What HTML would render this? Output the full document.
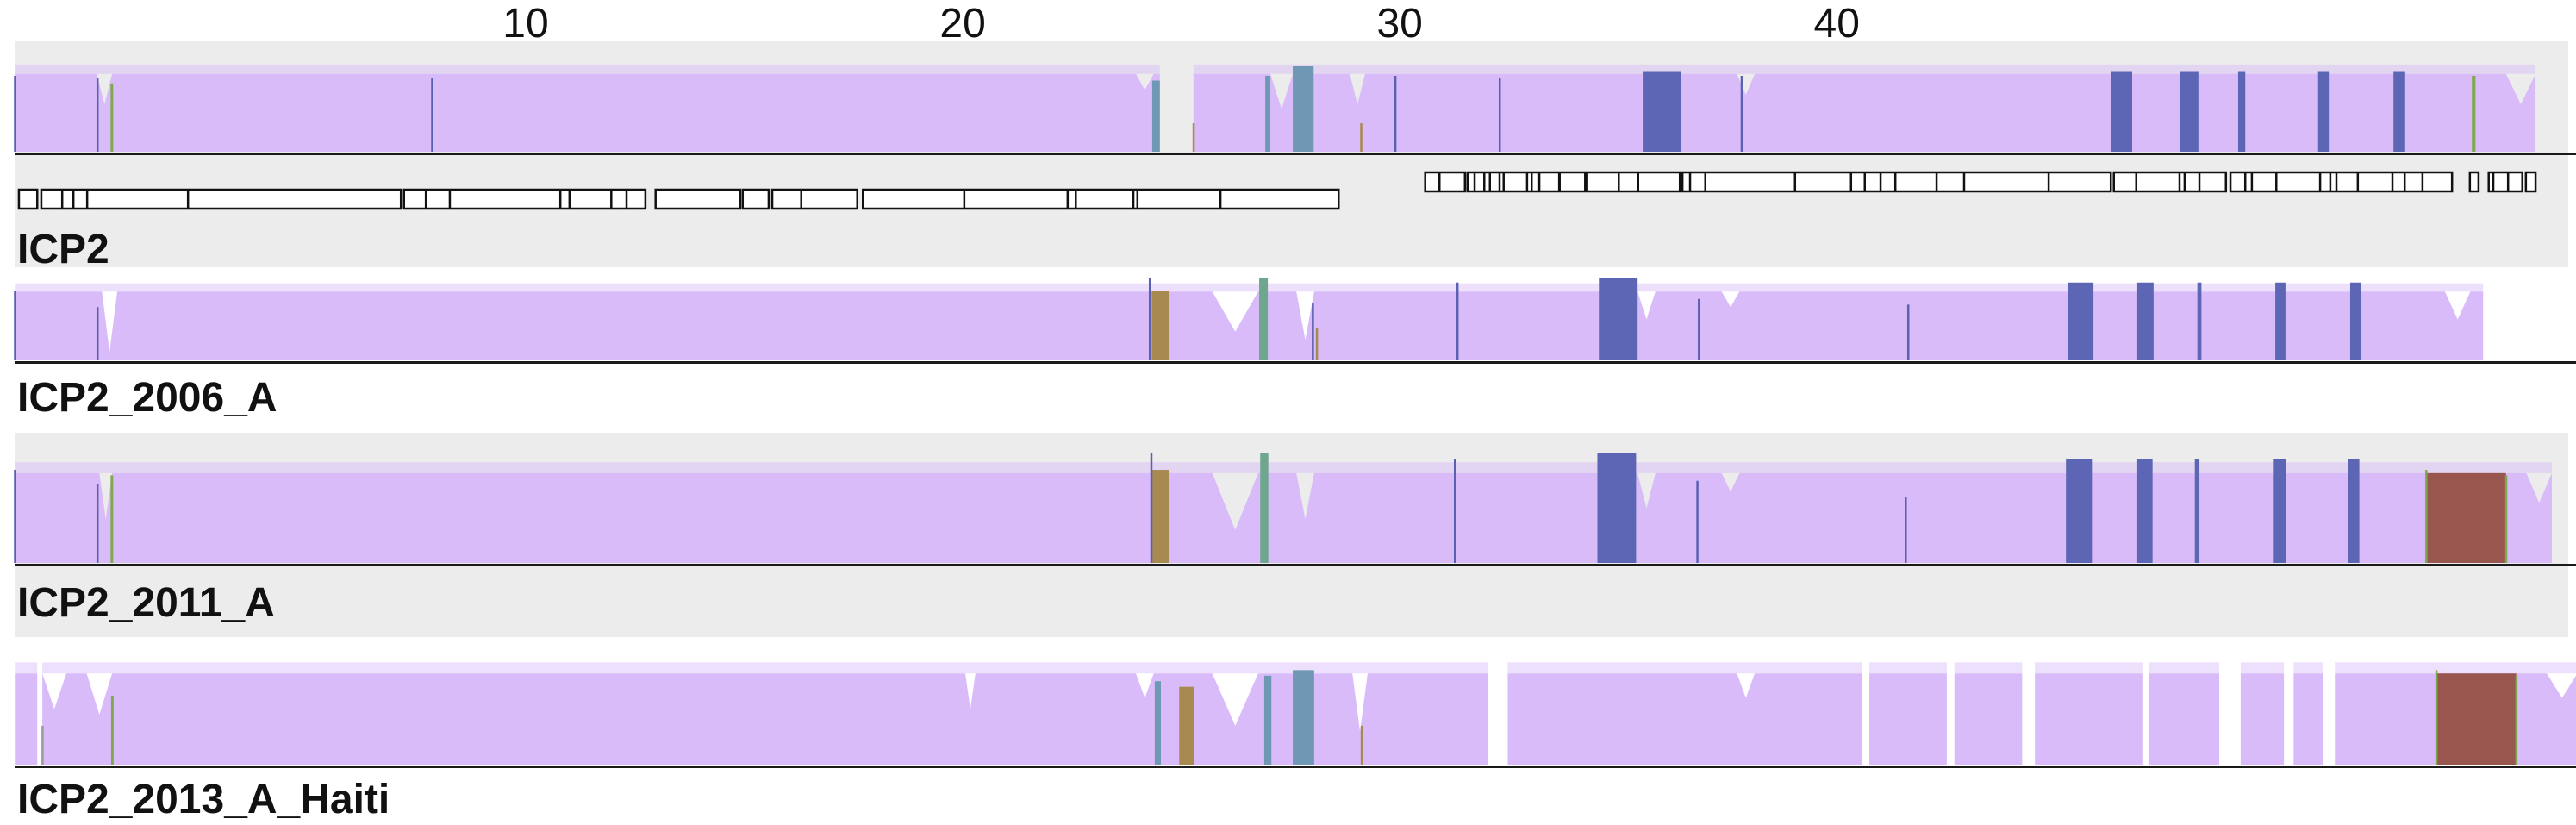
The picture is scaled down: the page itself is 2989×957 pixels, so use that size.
<!DOCTYPE html>
<html>
<head>
<meta charset="utf-8">
<style>
  html,body{margin:0;padding:0;background:#fff;}
  svg{display:block;}
  text{font-family:"Liberation Sans",Arial,sans-serif;}
</style>
</head>
<body>
<svg id="chart" width="2989" height="957" viewBox="0 0 2989 957" xmlns="http://www.w3.org/2000/svg">
  <g id="bg">
    <rect x="17" y="48" width="2963" height="262" fill="#ececec"/>
    <rect x="17" y="502" width="2963" height="237" fill="#ececec"/>
  </g>
  <g id="ticks"></g>
  <g id="tracks"></g>
  <g id="genes"></g>
  <g id="labels">
    <text x="20" y="305" font-size="48" font-weight="bold" fill="#111">ICP2</text>
    <text x="20" y="477" font-size="48" font-weight="bold" fill="#111">ICP2_2006_A</text>
    <text x="20" y="715" font-size="48" font-weight="bold" fill="#111">ICP2_2011_A</text>
    <text x="20" y="943" font-size="48" font-weight="bold" fill="#111">ICP2_2013_A_Haiti</text>
  </g>
</svg>
<script>
// ---------- data (positions on track scale, relative coverage 0..1) ----------
const tickValues = [10.22, 18.80, 27.38, 35.96];
const tickLabels = ["10", "20", "30", "40"];

// Track 1: ICP2
const t1Segments = [[0.19, 22.67], [23.33, 49.68]];
const t1Base = 0.82;
const t1Dips = [[1.8, 2.1, 0.5], [22.2, 22.55, 0.65], [24.84, 25.28, 0.45], [26.4, 26.7, 0.5], [34.0, 34.35, 0.6], [49.1, 49.68, 0.5]];
const t1Blocks = [[2.07, 2.12, "green", 0.72], [22.52, 22.67, "steel", 0.75], [24.74, 24.84, "steel", 0.8], [25.28, 25.69, "steel", 0.9],
  [32.15, 32.91, "dblue", 0.85], [41.34, 41.76, "dblue", 0.85], [42.70, 43.06, "dblue", 0.85], [43.84, 43.98, "dblue", 0.85],
  [45.41, 45.62, "dblue", 0.85], [46.89, 47.12, "dblue", 0.85], [48.43, 48.50, "green", 0.8]];
const t1Lines = [[0.19, "blue", 0.8], [1.81, "blue", 0.78], [8.38, "blue", 0.78], [23.33, "tan", 0.3], [26.62, "tan", 0.3], [27.29, "blue", 0.8], [29.34, "blue", 0.78], [34.09, "blue", 0.8]];

// Track 2: ICP2_2006_A
const t2Segments = [[0.19, 48.65]];
const t2Base = 0.84;
const t2Dips = [[1.9, 2.2, 0.1], [23.7, 24.6, 0.35], [25.35, 25.7, 0.25], [32.05, 32.4, 0.5], [33.7, 34.05, 0.65], [47.9, 48.4, 0.5]];
const t2Blocks = [[22.51, 22.86, "tan", 0.85], [24.62, 24.79, "teal", 1.0], [31.29, 32.05, "dblue", 1.0], [40.5, 41.0, "dblue", 0.95],
  [41.86, 42.18, "dblue", 0.95], [43.04, 43.12, "dblue", 0.95], [44.57, 44.77, "dblue", 0.95], [46.04, 46.26, "dblue", 0.95]];
const t2Lines = [[0.19, "blue", 0.85], [1.81, "blue", 0.65], [22.47, "blue", 1.0], [25.67, "blue", 0.7], [25.75, "tan", 0.4], [28.51, "blue", 0.95], [33.25, "blue", 0.75], [37.36, "blue", 0.68]];

// Track 3: ICP2_2011_A
const t3Segments = [[0.19, 50.0]];
const t3Base = 0.82;
const t3Dips = [[1.85, 2.1, 0.4], [23.7, 24.6, 0.3], [25.35, 25.7, 0.4], [32.05, 32.4, 0.5], [33.7, 34.05, 0.65], [49.5, 50.0, 0.55]];
const t3Blocks = [[2.07, 2.12, "green", 0.8], [22.51, 22.86, "tan", 0.85], [24.64, 24.8, "teal", 1.0], [31.26, 32.02, "dblue", 1.0],
  [40.46, 40.97, "dblue", 0.95], [41.86, 42.16, "dblue", 0.95], [42.99, 43.08, "dblue", 0.95], [44.54, 44.78, "dblue", 0.95],
  [45.99, 46.22, "dblue", 0.95], [47.53, 49.10, "red", 0.82]];
const t3Lines = [[0.19, "blue", 0.85], [1.81, "blue", 0.72], [22.5, "blue", 1.0], [28.46, "blue", 0.95], [33.22, "blue", 0.75], [37.31, "blue", 0.6], [47.53, "green", 0.85], [49.10, "green", 0.8]];

// Track 4: ICP2_2013_A_Haiti
const t4Segments = [[0.19, 0.63], [0.73, 29.12], [29.5, 36.45], [36.6, 38.12], [38.27, 39.6], [39.85, 41.96], [42.08, 43.47], [43.89, 44.74], [44.93, 45.5], [45.74, 50.5]];
const t4Base = 0.82;
const t4Dips = [[0.73, 1.2, 0.5], [1.6, 2.1, 0.45], [18.85, 19.05, 0.5], [22.2, 22.55, 0.6], [23.7, 24.6, 0.35], [26.45, 26.75, 0.3], [34.0, 34.35, 0.6], [49.9, 50.5, 0.6]];
const t4Blocks = [[2.08, 2.13, "green", 0.62], [22.57, 22.69, "steel", 0.75], [23.05, 23.35, "tan", 0.7], [24.72, 24.86, "steel", 0.8],
  [25.28, 25.70, "steel", 0.85], [47.73, 49.30, "red", 0.82]];
const t4Lines = [[0.73, "gray", 0.35], [26.63, "tan", 0.35], [47.73, "green", 0.85], [49.30, "green", 0.8]];

// Gene annotation boxes: [start, end, dividers...]
const geneRowLow = [
  [0.27, 0.63, []], [0.71, 7.77, [1.12, 1.34, 1.61, 3.59]], [7.83, 12.57, [8.26, 8.73, 10.90, 11.08, 11.90, 12.20]],
  [12.77, 14.43, []], [14.48, 14.99, []], [15.06, 16.73, [15.63]], [16.84, 26.18, [18.83, 20.86, 21.02, 22.15, 22.23, 23.86]]
];
const geneRowHigh = [
  [27.88, 28.66, [28.16]],
  [28.71, 32.88, [28.85, 29.04, 29.15, 29.34, 29.42, 29.88, 29.97, 30.12, 30.51, 30.52, 31.02, 31.06, 31.68, 32.06]],
  [32.93, 41.34, [33.08, 33.38, 35.14, 36.24, 36.51, 36.82, 37.11, 37.92, 38.46, 40.12]],
  [41.40, 43.60, [41.84, 42.69, 42.79, 43.08]],
  [43.69, 48.04, [43.98, 44.11, 44.59, 45.45, 45.65, 45.77, 46.19, 46.87, 47.11, 47.46]],
  [48.39, 48.56, []], [48.76, 49.42, [48.85, 49.14]], [49.49, 49.68, []]
];

// ---------- rendering ----------
const NS = "http://www.w3.org/2000/svg";
const X = v => 6 + 59.1 * v;
const COLORS = {lav: "#d8bbf8", blue: "#5b60b2", dblue: "#5c66b5", steel: "#6f98b4", tan: "#a8894f", green: "#7fa94f", teal: "#6ea68e", red: "#99564f", gray: "#9a9a9a"};

function mk(tag, attrs, parent) {
  const e = document.createElementNS(NS, tag);
  for (const k in attrs) e.setAttribute(k, attrs[k]);
  parent.appendChild(e);
  return e;
}

const ticksG = document.getElementById("ticks");
tickValues.forEach((v, i) => {
  const t = mk("text", {x: X(v), y: 43, "font-size": 48, "text-anchor": "middle", fill: "#111"}, ticksG);
  
  
  t.textContent = tickLabels[i];
});

const layouts = [
  {name: "icp2", top: 66, bottom: 176, lineY: 178, seg: t1Segments, base: t1Base, dips: t1Dips, blocks: t1Blocks, lines: t1Lines},
  {name: "icp2-2006-a", top: 323, bottom: 418, lineY: 420, seg: t2Segments, base: t2Base, dips: t2Dips, blocks: t2Blocks, lines: t2Lines},
  {name: "icp2-2011-a", top: 526, bottom: 653, lineY: 655, seg: t3Segments, base: t3Base, dips: t3Dips, blocks: t3Blocks, lines: t3Lines},
  {name: "icp2-2013-a-haiti", top: 758, bottom: 887, lineY: 889, seg: t4Segments, base: t4Base, dips: t4Dips, blocks: t4Blocks, lines: t4Lines}
];

const tracksG = document.getElementById("tracks");
layouts.forEach(L => {
  const g = mk("g", {}, tracksG);
  
  
  const Y = h => L.bottom - h * (L.bottom - L.top);
  L.seg.forEach(s => {
    // profile: base level with V-shaped dips
    const pts = [[s[0], L.base]];
    L.dips.slice().sort((a, b) => a[0] - b[0]).forEach(d => {
      const c = (d[0] + d[1]) / 2;
      [[d[0], L.base], [c, d[2]], [d[1], L.base]].forEach(p => {
        if (p[0] > s[0] && p[0] < s[1]) pts.push(p);
      });
    });
    pts.push([s[1], L.base]);
    let dStr = "M" + X(s[0]) + "," + L.bottom;
    pts.forEach(p => { dStr += " L" + X(p[0]) + "," + Y(p[1]); });
    dStr += " L" + X(s[1]) + "," + L.bottom + " Z";
    const p = mk("path", {d: dStr, fill: COLORS.lav}, g);
    
    
    const band = mk("rect", {x: X(s[0]), y: Y(L.base) - 0.1 * (L.bottom - L.top), width: X(s[1]) - X(s[0]), height: 0.1 * (L.bottom - L.top), fill: COLORS.lav, opacity: 0.45}, g);
    
    
  });
  L.blocks.forEach(b => {
    const r = mk("rect", {x: X(b[0]), y: Y(b[3]), width: Math.max(2, X(b[1]) - X(b[0])), height: L.bottom - Y(b[3]), fill: COLORS[b[2]]}, g);
    
    
  });
  L.lines.forEach(l => {
    const r = mk("rect", {x: X(l[0]) - 1, y: Y(l[2]), width: 2.5, height: L.bottom - Y(l[2]), fill: COLORS[l[1]]}, g);
    
    
  });
  const base = mk("rect", {x: 17, y: L.lineY - 1, width: 2972, height: 3, fill: "#1a1a1a"}, g);
  
  
});

const genesG = document.getElementById("genes");
function drawRow(row, y0, h) {
  row.forEach(b => {
    const r = mk("rect", {x: X(b[0]), y: y0, width: X(b[1]) - X(b[0]), height: h, fill: "#fff", stroke: "#111", "stroke-width": 2.5}, genesG);
    
    
    b[2].forEach(d => {
      const ln = mk("line", {x1: X(d), x2: X(d), y1: y0, y2: y0 + h, stroke: "#111", "stroke-width": 2.5}, genesG);
      
      
    });
  });
}
drawRow(geneRowLow, 220, 22);
drawRow(geneRowHigh, 200, 22);
</script>
</body>
</html>
